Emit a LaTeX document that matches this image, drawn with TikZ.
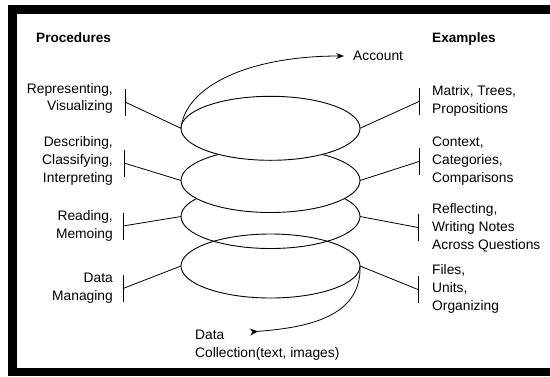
\documentclass[tikz,border=0pt]{standalone}
\usepackage{fontspec}
\setmainfont{Liberation Sans}
\usetikzlibrary{shapes.geometric,arrows.meta}
\begin{document}
\begin{tikzpicture}[x=1pt,y=-1pt,
  loop/.style={ellipse, minimum width=179pt, minimum height=64pt, inner sep=0pt, outer sep=0pt, draw, line width=0.9pt},
  lbl/.style={font=\fontsize{13.8}{17.8}\selectfont, inner sep=0pt, text=black},
  head/.style={font=\fontsize{13.6}{17}\selectfont\bfseries, inner sep=0pt, anchor=west},
  link/.style={line width=0.8pt},
  bar/.style={line width=0.9pt}]
\useasboundingbox (0,0) rectangle (550,376);
% frame
\fill[black] (8,5) rectangle (550,14);
\fill[black] (8,5) rectangle (17,376);
\fill[black] (8,368) rectangle (550,376);

% spiral loops (bottom first, upper loops hide what lies behind)
\node[loop] (e4) at (270.5,266) {};
\node[loop] (e3) at (270.5,216.5) {};
\node[loop, fill=white] (e2) at (270.5,180.5) {};
\node[loop, fill=white] (e1) at (270.5,128.3) {};

% headings
\node[head] (proc) at (36,38) {Procedures};
\node[head] (exam) at (432,39) {Examples};

% left labels
\node[lbl, anchor=east, align=right] (l1) at (113,98.5) {Representing,\\Visualizing};
\node[lbl, anchor=east, align=right] (l2) at (113,161) {Describing,\\Classifying,\\Interpreting};
\node[lbl, anchor=east, align=right] (l3) at (113,226) {Reading,\\Memoing};
\node[lbl, anchor=east, align=right] (l4) at (113,288) {Data\\Managing};

% right labels
\node[lbl, anchor=west, align=left] (r1) at (432,101) {Matrix, Trees,\\Propositions};
\node[lbl, anchor=west, align=left] (r2) at (432,161) {Context,\\Categories,\\Comparisons};
\node[lbl, anchor=west, align=left] (r3) at (432,228) {Reflecting,\\Writing Notes\\Across Questions};
\node[lbl, anchor=west, align=left] (r4) at (432,289) {Files,\\Units,\\Organizing};

% account and data collection
\node[lbl, anchor=west] (acc) at (353,56) {Account};
\node[lbl, anchor=west, align=left] (dc) at (195,345) {Data\\Collection(text, images)};

% bars
\coordinate (b1) at (125,102);
\coordinate (b2) at (124,163);
\coordinate (b3) at (123,226);
\coordinate (b4) at (123,288.5);
\coordinate (c1) at (419,101.5);
\coordinate (c2) at (419,161.5);
\coordinate (c3) at (418,227.5);
\coordinate (c4) at (418,289.5);
\foreach \b in {b1,b2,b3,b4,c1,c2,c3,c4}
  \draw[bar] ([yshift=13.5pt]\b) -- ([yshift=-13.5pt]\b);

% connectors
\draw[link] (e1.west) -- (b1);
\draw[link] (e2.west) -- (b2);
\draw[link] (e3.west) -- (b3);
\draw[link] (e4.west) -- (b4);
\draw[link] (e1.east) -- (c1);
\draw[link] (e2.east) -- (c2);
\draw[link] (e3.east) -- (c3);
\draw[link] (e4.east) -- (c4);

% spiral ends
\coordinate (accTip) at (344,56);
\coordinate (dcTail) at (250,332);
\draw[link, -{Stealth[length=8pt,width=6pt]}] (e1.west) .. controls (185,88) and (245,56) .. (accTip);
\draw[link, {Stealth[reversed,length=8pt,width=7pt]}-] (dcTail) .. controls (300,328) and (362,320) .. (e4.east);
\end{tikzpicture}
\end{document}
